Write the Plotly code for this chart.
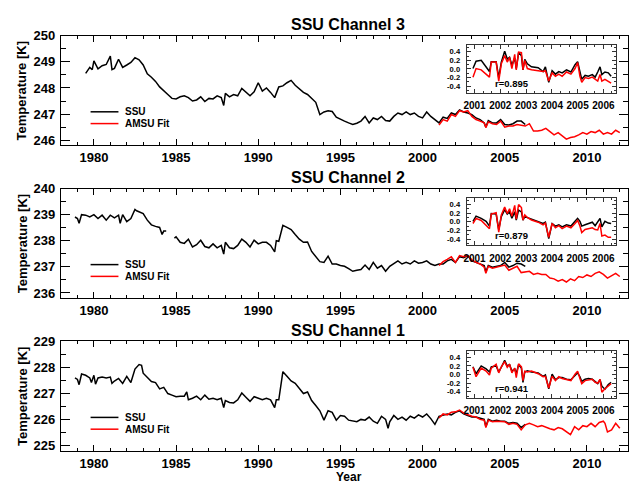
import plotly.graph_objects as go

W, H = 629, 483
FONT = "Liberation Sans"

# ---- Channel 3 ----
ch3_ssu_year = [1979.5, 1979.75, 1979.9, 1980.0, 1980.25, 1980.5, 1980.75, 1981.0, 1981.1, 1981.25,
                1981.5, 1981.75, 1982.0, 1982.25, 1982.5, 1982.75, 1983.0, 1983.25, 1983.5, 1983.75,
                1984.0, 1984.25, 1984.5, 1984.75, 1985.0, 1985.25, 1985.5, 1985.75, 1986.0, 1986.25,
                1986.5, 1986.75, 1987.0, 1987.25, 1987.5, 1987.75, 1987.9, 1988.0, 1988.25, 1988.5,
                1988.75, 1989.0, 1989.25, 1989.5, 1989.75, 1990.0, 1990.25, 1990.5, 1990.75, 1991.0,
                1991.25, 1991.5, 1991.75, 1992.0, 1992.25, 1992.5, 1992.75, 1993.0, 1993.25, 1993.5,
                1993.75, 1994.0, 1994.25, 1994.5, 1994.75, 1995.0, 1995.25, 1995.5, 1995.75, 1996.0,
                1996.25, 1996.5, 1996.75, 1997.0, 1997.25, 1997.5, 1997.75, 1998.0, 1998.25, 1998.5,
                1998.75, 1999.0, 1999.25, 1999.5, 1999.75, 2000.0, 2000.25, 2000.5, 2000.75, 2001.0,
                2001.25, 2001.5, 2001.75, 2002.0, 2002.25, 2002.5, 2002.75, 2003.0, 2003.25, 2003.5,
                2003.75, 2003.85, 2004.0, 2004.25, 2004.5, 2004.75, 2005.0, 2005.25, 2005.5, 2005.75,
                2006.0, 2006.25]
ch3_ssu_temp = [248.56, 248.79, 248.7, 249.04, 248.73, 248.85, 248.9, 249.22, 248.7, 248.75,
                249.1, 248.79, 248.88, 248.98, 249.16, 249.08, 248.88, 248.54, 248.41, 248.25,
                248.04, 247.91, 247.75, 247.6, 247.58, 247.66, 247.7, 247.63, 247.5, 247.54,
                247.66, 247.48, 247.6, 247.58, 247.7, 247.63, 247.33, 247.79, 247.66, 247.75,
                247.7, 247.98, 247.83, 247.7, 247.85, 248.2, 247.88, 248.0, 247.83, 247.63,
                248.04, 248.08, 248.2, 248.29, 248.1, 247.98, 247.83, 247.75, 247.6, 247.45,
                246.98, 247.08, 247.13, 247.1, 246.88, 246.79, 246.73, 246.66, 246.6, 246.65,
                246.73, 246.91, 246.66, 246.85, 246.79, 246.91, 246.75, 246.73, 246.91, 247.04,
                246.98, 247.08, 246.98, 247.04, 246.91, 246.85, 247.08, 246.91, 246.79, 246.66,
                246.88, 246.83, 247.04, 246.98, 247.16, 247.08, 247.04, 246.98, 246.85, 246.79,
                246.66, 246.5, 246.75, 246.66, 246.66, 246.79, 246.6, 246.58, 246.63, 246.73,
                246.73, 246.6]
ch3_amsu_year = [2001.0, 2001.25, 2001.5, 2001.75, 2002.0, 2002.25, 2002.5, 2002.75, 2003.0, 2003.25,
                 2003.5, 2003.75, 2003.85, 2004.0, 2004.25, 2004.5, 2004.75, 2005.0, 2005.25, 2005.5,
                 2005.75, 2006.0, 2006.25, 2006.5, 2006.75, 2007.0, 2007.25, 2007.5, 2007.75, 2008.0,
                 2008.25, 2008.5, 2008.75, 2009.0, 2009.25, 2009.5, 2009.75, 2010.0, 2010.25, 2010.5,
                 2010.75, 2011.0, 2011.25, 2011.5, 2011.75, 2012.0]
ch3_amsu_temp = [246.58, 246.79, 246.73, 246.98, 246.91, 247.13, 247.08, 247.13, 246.91, 246.79,
                 246.73, 246.66, 246.48, 246.7, 246.63, 246.6, 246.73, 246.5, 246.54, 246.54,
                 246.6, 246.58, 246.54, 246.63, 246.35, 246.35, 246.38, 246.45, 246.33, 246.2,
                 246.29, 246.16, 246.04, 246.1, 246.13, 246.2, 246.29, 246.23, 246.33, 246.29,
                 246.38, 246.23, 246.29, 246.23, 246.38, 246.29]

# ---- Channel 2 ----
ch2_ssu_year = [1978.85, 1979.0, 1979.1, 1979.25, 1979.5, 1979.75, 1980.0, 1980.25, 1980.5, 1980.75,
                1981.0, 1981.25, 1981.5, 1981.6, 1981.75, 1982.0, 1982.25, 1982.5, 1982.6, 1982.75,
                1983.0, 1983.25, 1983.5, 1983.75, 1984.0, 1984.15, 1984.25, 1984.4, 1984.6, 1984.9,
                1985.0, 1985.25, 1985.5, 1985.75, 1986.0, 1986.25, 1986.5, 1986.75, 1987.0, 1987.25,
                1987.5, 1987.75, 1987.9, 1988.0, 1988.25, 1988.5, 1988.75, 1989.0, 1989.25, 1989.5,
                1989.75, 1990.0, 1990.25, 1990.5, 1990.75, 1991.0, 1991.1, 1991.25, 1991.5, 1991.75,
                1992.0, 1992.25, 1992.5, 1992.75, 1993.0, 1993.25, 1993.5, 1993.75, 1994.0, 1994.25,
                1994.5, 1994.75, 1995.0, 1995.25, 1995.5, 1995.75, 1996.0, 1996.25, 1996.5, 1996.75,
                1997.0, 1997.25, 1997.5, 1997.75, 1998.0, 1998.25, 1998.5, 1998.75, 1999.0, 1999.25,
                1999.5, 1999.75, 2000.0, 2000.25, 2000.5, 2000.75, 2001.0, 2001.25, 2001.5, 2001.75,
                2002.0, 2002.25, 2002.5, 2002.75, 2003.0, 2003.25, 2003.5, 2003.75, 2003.85, 2004.0,
                2004.25, 2004.5, 2004.75, 2005.0, 2005.25, 2005.5, 2005.75, 2006.0, 2006.25]
ch2_ssu_temp = [238.91, 238.85, 238.67, 239.0, 238.98, 238.91, 239.0, 238.85, 238.98, 238.79,
                238.98, 238.88, 238.98, 238.67, 239.0, 238.73, 238.85, 239.2, 239.15, 239.1,
                239.04, 238.79, 238.61, 238.55, 238.51, 238.24, 238.37, 238.37, None, 238.1,
                238.15, 237.94, 237.9, 238.06, 237.76, 237.85, 238.02, 237.78, 237.73, 237.88,
                237.73, 237.82, 237.49, 237.94, 237.73, 237.7, 237.82, 238.06, 237.94, 237.76,
                238.02, 237.88, 237.94, 237.94, 237.82, 237.57, 238.0, 237.98, 238.59, 238.51,
                238.43, 238.24, 238.06, 237.94, 237.95, 237.59, 237.39, 237.2, 237.17, 237.41,
                237.11, 237.11, 237.05, 237.02, 236.93, 236.83, 236.87, 236.9, 237.07, 236.9,
                237.17, 236.95, 237.05, 236.83, 237.02, 237.11, 237.23, 237.11, 237.17, 237.11,
                237.23, 237.14, 237.17, 237.23, 237.11, 237.05, 237.11, 237.11, 237.23, 237.29,
                237.17, 237.39, 237.35, 237.43, 237.23, 237.17, 237.11, 237.05, 236.81, 237.05,
                236.99, 237.02, 237.05, 237.17, 236.99, 237.05, 237.14, 237.11, 237.02]
ch2_amsu_year = [2001.0, 2001.25, 2001.5, 2001.75, 2002.0, 2002.25, 2002.5, 2002.75, 2003.0, 2003.25,
                 2003.5, 2003.75, 2003.85, 2004.0, 2004.25, 2004.5, 2004.75, 2005.0, 2005.25, 2005.5,
                 2005.75, 2006.0, 2006.25, 2006.5, 2006.75, 2007.0, 2007.25, 2007.5, 2007.75, 2008.0,
                 2008.25, 2008.5, 2008.75, 2009.0, 2009.25, 2009.5, 2009.75, 2010.0, 2010.25, 2010.5,
                 2010.75, 2011.0, 2011.25, 2011.5, 2011.75, 2012.0]
ch2_amsu_temp = [237.05, 237.2, 237.29, 237.39, 237.17, 237.43, 237.39, 237.43, 237.27, 237.17,
                 237.11, 236.99, 236.75, 237.02, 236.95, 236.99, 237.02, 237.07, 236.87, 236.95,
                 237.02, 236.78, 236.81, 236.83, 236.71, 236.75, 236.71, 236.71, 236.57, 236.54,
                 236.45, 236.51, 236.42, 236.54, 236.47, 236.63, 236.59, 236.69, 236.63, 236.75,
                 236.81, 236.71, 236.57, 236.66, 236.75, 236.63]

# ---- Channel 1 ----
ch1_ssu_year = [1978.85, 1979.0, 1979.1, 1979.25, 1979.5, 1979.75, 1979.85, 1980.0, 1980.1, 1980.25,
                1980.5, 1980.75, 1981.0, 1981.1, 1981.25, 1981.5, 1981.75, 1982.0, 1982.25, 1982.5,
                1982.75, 1982.9, 1983.0, 1983.25, 1983.5, 1983.75, 1984.0, 1984.25, 1984.5, 1984.75,
                1985.0, 1985.25, 1985.5, 1985.65, 1985.75, 1986.0, 1986.25, 1986.5, 1986.75, 1987.0,
                1987.25, 1987.5, 1987.75, 1987.9, 1988.0, 1988.25, 1988.5, 1988.75, 1989.0, 1989.25,
                1989.5, 1989.75, 1990.0, 1990.25, 1990.5, 1990.75, 1991.0, 1991.1, 1991.25, 1991.5,
                1991.75, 1992.0, 1992.25, 1992.5, 1992.75, 1993.0, 1993.25, 1993.5, 1993.75, 1994.0,
                1994.25, 1994.5, 1994.75, 1995.0, 1995.25, 1995.5, 1995.75, 1996.0, 1996.25, 1996.5,
                1996.75, 1997.0, 1997.25, 1997.5, 1997.75, 1997.9, 1998.0, 1998.25, 1998.5, 1998.75,
                1999.0, 1999.25, 1999.5, 1999.75, 2000.0, 2000.25, 2000.5, 2000.75, 2001.0, 2001.25,
                2001.5, 2001.75, 2002.0, 2002.25, 2002.5, 2002.75, 2003.0, 2003.25, 2003.5, 2003.75,
                2003.85, 2004.0, 2004.25, 2004.5, 2004.75, 2005.0, 2005.25, 2005.5, 2005.75, 2006.0,
                2006.25]
ch1_ssu_temp = [227.6, 227.54, 227.34, 227.75, 227.7, 227.6, 227.42, 227.7, 227.36, 227.6,
                227.63, 227.6, 227.63, 227.39, 227.48, 227.58, 227.39, 227.66, 227.42, 227.94,
                228.11, 228.08, 227.78, 227.6, 227.46, 227.42, 227.18, 227.24, 227.0, 226.94,
                226.88, 226.9, 226.9, 227.06, 226.76, 226.82, 226.9, 226.76, 226.94, 226.78,
                226.82, 226.76, 226.82, 226.46, 226.73, 226.66, 226.64, 226.76, 227.02, 226.86,
                226.7, 226.88, 226.82, 226.76, 226.82, 226.76, 226.46, 226.76, 226.76, 227.84,
                227.66, 227.48, 227.39, 227.18, 227.0, 227.06, 226.73, 226.54, 226.34, 225.98,
                226.34, 226.28, 225.98, 226.16, 226.13, 225.98, 225.94, 225.92, 226.01, 225.98,
                226.1, 225.94, 225.86, 226.13, 226.01, 225.67, 225.92, 226.16, 226.01, 226.1,
                225.98, 226.13, 226.06, 226.18, 226.1, 226.22, 226.04, 225.82, 226.13, 226.18,
                226.22, 226.18, 226.28, 226.34, 226.22, 226.16, 226.1, 226.1, 226.06, 226.01,
                225.73, 226.01, 225.94, 225.98, 225.94, 225.94, 225.86, 225.89, 225.86, 225.7,
                225.82]
ch1_amsu_year = [2001.0, 2001.25, 2001.5, 2001.75, 2002.0, 2002.25, 2002.5, 2002.75, 2003.0, 2003.25,
                 2003.5, 2003.75, 2003.85, 2004.0, 2004.25, 2004.5, 2004.75, 2005.0, 2005.25, 2005.5,
                 2005.75, 2006.0, 2006.25, 2006.5, 2006.75, 2007.0, 2007.25, 2007.5, 2007.75, 2008.0,
                 2008.25, 2008.5, 2008.75, 2009.0, 2009.25, 2009.5, 2009.75, 2010.0, 2010.25, 2010.5,
                 2010.75, 2011.0, 2011.1, 2011.25, 2011.5, 2011.75, 2012.0]
ch1_amsu_temp = [226.06, 226.22, 226.18, 226.28, 226.3, 226.37, 226.25, 226.18, 226.13, 226.1,
                 226.01, 225.98, 225.7, 225.98, 225.92, 225.94, 225.92, 225.92, 225.82, 225.86,
                 225.82, 225.61, 225.8, 225.86, 225.8, 225.73, 225.77, 225.7, 225.65, 225.61,
                 225.7, 225.65, 225.53, 225.43, 225.73, 225.61, 225.77, 225.73, 225.86, 225.73,
                 225.89, 225.94, 225.86, 225.53, 225.61, 225.86, 225.67]

# ---- inset anomalies (2001-2006) ----
ins_year = [2000.94, 2001.06, 2001.26, 2001.45, 2001.58, 2001.65, 2001.84, 2001.94, 2002.04, 2002.17,
            2002.27, 2002.36, 2002.45, 2002.56, 2002.62, 2002.71, 2002.82, 2002.88, 2002.95, 2003.05,
            2003.21, 2003.47, 2003.66, 2003.75, 2003.88, 2004.01, 2004.14, 2004.27, 2004.4, 2004.57,
            2004.74, 2004.9, 2005.0, 2005.09, 2005.16, 2005.29, 2005.42, 2005.57, 2005.68, 2005.78,
            2005.87, 2005.94, 2006.06, 2006.19, 2006.3]
ch3_ins_ssu = [0.01, 0.18, 0.2, 0.05, -0.06, 0.17, 0.17, -0.2, 0.16, 0.41,
               0.23, 0.27, 0.09, 0.25, 0.01, 0.38, 0.31, -0.02, 0.22, 0.12,
               0.05, 0.03, -0.06, 0.05, -0.31, -0.04, -0.12, -0.06, -0.09, -0.02,
               -0.07, 0.1, 0.17, -0.06, -0.24, -0.15, -0.17, -0.13, -0.19, -0.07,
               0.05, -0.13, -0.07, -0.09, -0.17]
ch3_ins_amsu = [-0.19, 0.01, -0.02, -0.13, -0.19, 0.16, 0.16, -0.28, 0.12, 0.31,
                0.16, 0.27, 0.01, 0.34, -0.02, 0.39, 0.38, -0.02, 0.2, 0.01,
                -0.02, -0.04, -0.06, -0.04, -0.28, -0.09, -0.17, -0.12, -0.17, -0.07,
                -0.12, 0.01, 0.15, -0.17, -0.31, -0.2, -0.22, -0.19, -0.24, -0.28,
                -0.13, -0.28, -0.24, -0.29, -0.33]
ch2_ins_ssu = [0.01, 0.13, 0.08, 0.01, -0.1, 0.19, 0.18, -0.18, 0.12, 0.28,
               0.18, 0.23, 0.08, 0.23, 0.04, 0.27, 0.23, 0.04, 0.12, 0.1,
               0.06, 0.01, -0.04, -0.01, -0.39, -0.04, -0.1, -0.07, -0.12, -0.07,
               -0.1, 0.01, 0.08, 0.01, -0.1, -0.07, -0.04, -0.01, -0.09, -0.01,
               0.08, -0.12, 0.01, -0.03, -0.04]
ch2_ins_amsu = [-0.04, 0.08, 0.03, -0.07, -0.16, 0.18, 0.21, -0.24, 0.16, 0.34,
                0.19, 0.3, 0.13, 0.38, 0.06, 0.4, 0.33, 0.04, 0.16, 0.1,
                0.04, -0.01, -0.07, -0.03, -0.36, -0.04, -0.14, -0.09, -0.16, -0.1,
                -0.14, -0.04, 0.03, -0.1, -0.25, -0.18, -0.16, -0.14, -0.18, -0.19,
                -0.04, -0.33, -0.31, -0.36, -0.36]
ch1_ins_ssu = [0.18, 0.02, 0.2, 0.13, 0.06, 0.18, 0.2, 0.06, 0.17, 0.33,
               0.2, 0.23, 0.08, 0.13, 0.02, 0.23, 0.15, -0.18, 0.06, 0.09,
               0.06, 0.04, -0.04, -0.01, -0.33, 0.01, -0.12, -0.07, -0.07, -0.11,
               -0.12, -0.01, 0.04, -0.05, -0.16, -0.11, -0.09, -0.11, -0.16, -0.21,
               -0.12, -0.27, -0.34, -0.23, -0.18]
ch1_ins_amsu = [0.17, -0.05, 0.15, 0.08, -0.01, 0.15, 0.24, 0.04, 0.18, 0.3,
                0.17, 0.24, 0.04, 0.15, -0.07, 0.25, 0.18, -0.14, 0.08, 0.06,
                0.08, 0.02, -0.05, -0.04, -0.31, -0.04, -0.14, -0.05, -0.09, -0.11,
                -0.14, 0.01, 0.08, -0.09, -0.21, -0.14, -0.12, -0.11, -0.18, -0.2,
                -0.11, -0.41, -0.33, -0.27, -0.21]

titles = ["SSU Channel 3", "SSU Channel 2", "SSU Channel 1"]
corr_labels = ["r=0.895", "r=0.879", "r=0.941"]
y_ranges = [[245.8, 250.0], [235.8, 240.0], [224.8, 229.0]]
year_ticks = [1980, 1985, 1990, 1995, 2000, 2005, 2010]
inset_ticks = [-0.4, -0.2, 0.0, 0.2, 0.4]
inset_tick_text = ["-0.4", "-0.2", "0.0", "0.2", "0.4"]

panels = [
    (ch3_ssu_year, ch3_ssu_temp, ch3_amsu_year, ch3_amsu_temp, ch3_ins_ssu, ch3_ins_amsu),
    (ch2_ssu_year, ch2_ssu_temp, ch2_amsu_year, ch2_amsu_temp, ch2_ins_ssu, ch2_ins_amsu),
    (ch1_ssu_year, ch1_ssu_temp, ch1_amsu_year, ch1_amsu_temp, ch1_ins_ssu, ch1_ins_amsu),
]


def px(x):
    return x / W


def py(y):
    return 1 - y / H


# layout geometry in pixels
tops = [29.3, 185.0, 340.7]
ph = 111.7
left, right = 58.3, 628.0
ins_left, ins_right = 466.0, 615.7
ins_off, ins_h = 9.7, 48.3

bold = dict(family=FONT, color="black", weight="bold")
LW = 1.5

fig = go.Figure()
layout = dict(
    width=W, height=H,
    margin=dict(l=0, r=0, t=0, b=0),
    paper_bgcolor="white", plot_bgcolor="white",
    showlegend=False,
    font=dict(family=FONT, color="black"),
)
annotations = []
shapes = []

for i, (sy, st, ay, at, iss, ias) in enumerate(panels):
    n = i + 1
    m = i + 4
    xs = "" if n == 1 else str(n)
    top = tops[i]

    fig.add_trace(go.Scatter(x=sy, y=st, mode="lines", line=dict(color="black", width=LW),
                             xaxis="x" + xs, yaxis="y" + xs, connectgaps=False))
    fig.add_trace(go.Scatter(x=ay, y=at, mode="lines", line=dict(color="#ff0000", width=LW),
                             xaxis="x" + xs, yaxis="y" + xs))
    fig.add_trace(go.Scatter(x=ins_year, y=iss, mode="lines", line=dict(color="black", width=LW),
                             xaxis="x%d" % m, yaxis="y%d" % m))
    fig.add_trace(go.Scatter(x=ins_year, y=ias, mode="lines", line=dict(color="#ff0000", width=LW),
                             xaxis="x%d" % m, yaxis="y%d" % m))

    layout["xaxis" + xs] = dict(
        domain=[px(left), px(right)], range=[1978.0, 2012.5], anchor="y" + xs,
        tickvals=year_ticks, ticks="inside", ticklen=6, tickwidth=1, tickcolor="black",
        minor=dict(dtick=1, ticks="inside", ticklen=3, tickcolor="black"),
        showline=True, linecolor="black", linewidth=1.2, mirror="allticks",
        showgrid=False, zeroline=False,
        tickfont=dict(size=13, **bold), ticklabelstandoff=0,
    )
    layout["yaxis" + xs] = dict(
        domain=[py(top + ph), py(top)], range=y_ranges[i], anchor="x" + xs,
        dtick=1, ticks="inside", ticklen=9, tickwidth=1, tickcolor="black",
        minor=dict(dtick=0.5, ticks="inside", ticklen=5, tickcolor="black"),
        showline=True, linecolor="black", linewidth=1.2, mirror="allticks",
        showgrid=False, zeroline=False,
        tickfont=dict(size=13, **bold), ticklabelstandoff=2,
    )
    layout["xaxis%d" % m] = dict(
        domain=[px(ins_left), px(ins_right)], range=[2000.7, 2006.48], anchor="y%d" % m,
        dtick=1, ticks="inside", ticklen=4, tickcolor="#333",
        minor=dict(dtick=1 / 3, ticks="inside", ticklen=2, tickcolor="#333"),
        showline=True, linecolor="#333", linewidth=1.2, mirror="allticks",
        showgrid=False, zeroline=False,
        tickfont=dict(size=10, **bold), ticklabelstandoff=3,
    )
    layout["yaxis%d" % m] = dict(
        domain=[py(top + ins_off + ins_h), py(top + ins_off)], range=[-0.55, 0.55], anchor="x%d" % m,
        tickvals=inset_ticks, ticktext=inset_tick_text, ticks="inside", ticklen=4, tickcolor="#333",
        minor=dict(dtick=0.1, ticks="inside", ticklen=2, tickcolor="#333"),
        showline=True, linecolor="#333", linewidth=1.2, mirror="allticks",
        showgrid=False, zeroline=False,
        tickfont=dict(size=7.6, **bold), ticklabelstandoff=4,
    )

    # panel title
    annotations.append(dict(text=titles[i], x=px(347), y=py(top - 11.5), xref="paper", yref="paper",
                            showarrow=False, xanchor="center", yanchor="middle",
                            font=dict(size=16, **bold)))
    # y title
    annotations.append(dict(text="Temperature [K]", x=px(19), y=py(top + ph / 2), xref="paper",
                            yref="paper", showarrow=False, textangle=-90,
                            xanchor="center", yanchor="middle", font=dict(size=13, **bold)))
    # correlation label
    annotations.append(dict(text=corr_labels[i], x=2002.45, y=-0.33, xref="x%d" % m, yref="y%d" % m,
                            showarrow=False, xanchor="center", yanchor="middle",
                            font=dict(size=9.5, **bold)))
    # legend
    for k, (name, col) in enumerate([("SSU", "black"), ("AMSU Fit", "#ff0000")]):
        yy = top + 77.5 + 12 * k
        shapes.append(dict(type="line", xref="paper", yref="paper", x0=px(88), x1=px(116),
                           y0=py(yy), y1=py(yy), line=dict(color=col, width=LW)))
        annotations.append(dict(text=name, x=px(121), y=py(yy), xref="paper", yref="paper",
                                showarrow=False, xanchor="left", yanchor="middle",
                                font=dict(size=10, **bold)))

annotations.append(dict(text="Year", x=px(348), y=py(478.5), xref="paper", yref="paper",
                        showarrow=False, xanchor="center", yanchor="middle",
                        font=dict(size=12, **bold)))

layout["annotations"] = annotations
layout["shapes"] = shapes
fig.update_layout(**layout)

# drop the browser's default page margin so the figure sits at the window origin
fig.write_html("out.html", config={"displayModeBar": False},
               post_script="document.body.style.margin='0';")
